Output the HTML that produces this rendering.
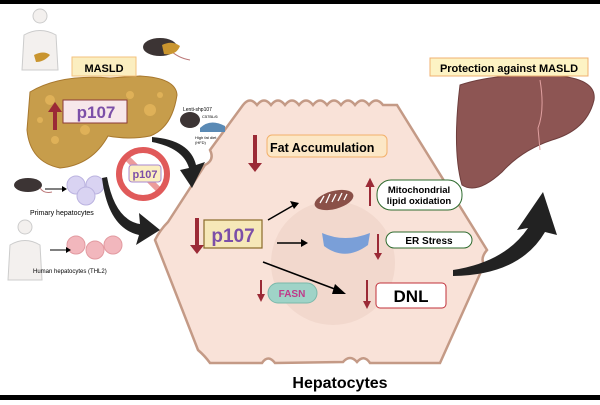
<!DOCTYPE html>
<html><head><meta charset="utf-8"><style>
body{margin:0;width:600px;height:400px;overflow:hidden;background:#fff;font-family:"Liberation Sans",sans-serif}
</style></head><body>
<svg width="600" height="400" viewBox="0 0 600 400" xmlns="http://www.w3.org/2000/svg" font-family="Liberation Sans, sans-serif">
<rect x="0" y="0" width="600" height="4" fill="#000"/>
<rect x="0" y="395" width="600" height="5" fill="#000"/>
<!-- hepatocyte cell -->
<path d="M243,105 Q250,96 257,105 Q264,96 271,105 Q278,96 285,105 Q292,96 299,105 Q306,96 313,105 Q320,96 327,105 Q334,96 341,105 Q348,96 355,105 Q362,96 369,105 Q376,96 383,105 L397,105 L487,250 Q480,258 484,265 L440,363 L370,363 Q364,354 357,362 Q350,354 343,362 L275,363 Q268,354 262,363 L210,363 Q205,356 198,350 L155,240 Q160,230 168,222 L205,165 Q215,160 210,150 Z" fill="#f9e2d8" stroke="#c49a86" stroke-width="2.5"/>
<circle cx="333" cy="263" r="62" fill="#f0d6cb" opacity="0.8"/>
<text x="340" y="388" font-size="16" font-weight="bold" text-anchor="middle">Hepatocytes</text>
<!-- left people -->
<g fill="#f3f0ee" stroke="#ccc"><circle cx="40" cy="16" r="7"/><path d="M22,70 L24,35 Q40,26 56,35 L58,70 Z"/>
<circle cx="25" cy="227" r="7"/><path d="M8,280 L10,245 Q25,236 40,245 L42,280 Z"/></g>
<path d="M34,55 Q44,50 50,55 Q44,62 36,62 Z" fill="#c9952f"/>
<!-- mice -->
<ellipse cx="160" cy="47" rx="17" ry="9" fill="#3c3434"/><path d="M170,50 Q178,58 190,60" stroke="#b77" fill="none"/><path d="M162,45 Q172,40 180,46 Q176,56 164,54Z" fill="#c9952f"/>
<ellipse cx="28" cy="185" rx="14" ry="7" fill="#3c3434"/><path d="M40,188 Q44,194 52,192" stroke="#b77" fill="none"/>
<ellipse cx="190" cy="120" rx="10" ry="8" fill="#3c3434"/>
<path d="M200,128 Q210,118 225,126 L225,132 L200,132Z" fill="#5a8ab5"/>
<text x="183" y="111" font-size="5">Lenti-shp107</text><text x="202" y="118" font-size="4">C57BL/6</text>
<text x="195" y="139" font-size="4">High fat diet</text><text x="195" y="144" font-size="4">(HFD)</text>
<!-- hepatocyte clusters -->
<g fill="#d9d3f2" stroke="#bbb3e0"><circle cx="76" cy="185" r="9"/><circle cx="95" cy="185" r="9"/><circle cx="86" cy="196" r="9"/></g>
<g fill="#f2b7bd" stroke="#e29aa0"><circle cx="76" cy="245" r="9"/><circle cx="113" cy="245" r="9"/><circle cx="95" cy="250" r="9"/></g>
<path d="M45,189 L66,189" stroke="#000"/><path d="M62,186 L67,189 L62,192Z"/>
<path d="M50,250 L70,250" stroke="#000"/><path d="M66,247 L71,250 L66,253Z"/>
<text x="30" y="215" font-size="7">Primary hepatocytes</text>
<text x="33" y="273" font-size="6">Human hepatocytes (THL2)</text>
<!-- left liver -->
<path d="M30,92 Q60,74 110,78 L140,76 Q176,78 177,95 Q172,128 150,136 Q130,140 108,136 Q92,165 60,168 Q30,162 27,130 Z" fill="#c79d4b" stroke="#a8782e"/>
<g fill="#e6b75c" opacity="0.8"><circle cx="50" cy="100" r="5"/><circle cx="150" cy="110" r="6"/><circle cx="130" cy="95" r="4"/><circle cx="55" cy="140" r="4"/><circle cx="85" cy="130" r="5"/><circle cx="160" cy="95" r="3"/><circle cx="40" cy="120" r="3"/></g>
<rect x="72" y="57" width="64" height="19" fill="#fbeec0" stroke="#f3c27e"/>
<text x="104" y="72" font-size="11" font-weight="bold" text-anchor="middle">MASLD</text>
<rect x="63" y="100" width="64" height="23" fill="#f7e7ea" stroke="#8b3a3a"/>
<text x="96" y="118" font-size="17" font-weight="bold" fill="#7c4fa8" text-anchor="middle">p107</text>
<path d="M53,130 L53,112 L48,112 L55,102 L62,112 L57,112 L57,130Z" fill="#9b2a36"/>
<!-- no sign -->
<circle cx="143" cy="174" r="24" fill="none" stroke="#e05a5a" stroke-width="6"/>
<line x1="126" y1="157" x2="160" y2="191" stroke="#e05a5a" stroke-width="6" opacity="0.6"/>
<rect x="129" y="165" width="32" height="17" rx="3" fill="#fbeec0" stroke="#a988d0"/>
<text x="145" y="178" font-size="11" font-weight="bold" fill="#7c4fa8" text-anchor="middle">p107</text>
<!-- black arrows -->
<path d="M152,137 Q190,140 196,165 L205,162 L192,188 L180,170 L189,168 Q183,148 152,142Z" fill="#222"/>
<path d="M107,177 Q115,220 140,224 L139,213 L160,230 L136,245 L139,235 Q108,228 102,178Z" fill="#222"/>
<path d="M453,270 Q505,262 528,228 L517,230 L543,192 L557,235 L545,232 Q520,275 453,276Z" fill="#222"/>
<!-- right liver -->
<path d="M460,85 Q500,72 560,76 Q597,80 594,100 Q587,130 552,140 Q522,150 502,172 Q477,195 462,185 Q452,150 460,85Z" fill="#8d5553" stroke="#6e3e3d"/>
<path d="M540,80 Q545,110 538,128 L540,150" stroke="#e0a0a0" fill="none"/>
<rect x="430" y="58" width="158" height="18" fill="#fdf3c4" stroke="#f0b070"/>
<text x="509" y="72" font-size="11" font-weight="bold" text-anchor="middle">Protection against MASLD</text>
<!-- fat accumulation -->
<path d="M253,163 L253,135 L257,135 L257,163 L262,163 L255,172 L248,163Z" fill="#9b2a36"/>
<rect x="267" y="135" width="120" height="22" rx="5" fill="#fce7c6" stroke="#f2b06b"/>
<text x="270" y="152" font-size="12.5" font-weight="bold">Fat Accumulation</text>
<!-- p107 center -->
<path d="M195,245 L195,218 L199,218 L199,245 L204,245 L197,254 L190,245Z" fill="#9b2a36"/>
<rect x="204" y="220" width="58" height="28" fill="#f6e8b8" stroke="#8a6a2a" stroke-width="1.2"/>
<text x="233" y="242" font-size="19" font-weight="bold" fill="#7c4fa8" text-anchor="middle">p107</text>
<!-- small arrows -->
<path d="M268,220 L294,205" stroke="#000" stroke-width="1.5"/><path d="M290,201 L299,203 L294,209Z"/>
<path d="M277,243 L304,243" stroke="#000" stroke-width="1.5"/><path d="M301,239 L308,243 L301,247Z"/>
<path d="M263,262 L340,291" stroke="#000" stroke-width="1.5"/><path d="M335,284 L346,294 L332,294Z"/>
<!-- mitochondria -->
<ellipse cx="334" cy="200" rx="20" ry="9" transform="rotate(-15 334 200)" fill="#8a5048"/>
<path d="M320,203 L324,196 M326,203 L330,194 M332,202 L336,194 M338,201 L342,193 M344,200 L347,194" stroke="#fff" stroke-width="1.3"/>
<path d="M370,206 L370,186 L367,186 L370,180 L373,186 L370,186" stroke="#9b2a36" stroke-width="2" fill="#9b2a36"/>
<rect x="377" y="180" width="85" height="30" rx="14" fill="#fff" stroke="#2e6b2e"/>
<text x="419" y="193" font-size="9.5" font-weight="bold" text-anchor="middle">Mitochondrial</text>
<text x="419" y="204" font-size="9.5" font-weight="bold" text-anchor="middle">lipid oxidation</text>
<!-- ER -->
<path d="M322,233 Q345,243 370,233 L368,245 Q345,262 324,246Z" fill="#7a9fd8"/>
<path d="M378,234 L378,255" stroke="#9b2a36" stroke-width="2"/><path d="M374,253 L378,260 L382,253Z" fill="#9b2a36"/>
<rect x="386" y="232" width="86" height="16" rx="8" fill="#fff" stroke="#2e6b2e"/>
<text x="429" y="244" font-size="10" font-weight="bold" text-anchor="middle">ER Stress</text>
<!-- FASN -->
<path d="M261,280 L261,295" stroke="#9b2a36" stroke-width="2"/><path d="M257,294 L261,302 L265,294Z" fill="#9b2a36"/>
<rect x="268" y="283" width="49" height="20" rx="10" fill="#9fd3c7" stroke="#7ab8aa"/>
<text x="292" y="297" font-size="10" font-weight="bold" fill="#c0398a" text-anchor="middle">FASN</text>
<!-- DNL -->
<path d="M367,280 L367,303" stroke="#9b2a36" stroke-width="2"/><path d="M363,301 L367,309 L371,301Z" fill="#9b2a36"/>
<rect x="376" y="283" width="70" height="25" rx="4" fill="#fff" stroke="#c0303a"/>
<text x="411" y="302" font-size="17" font-weight="bold" text-anchor="middle">DNL</text>
</svg>
</body></html>
